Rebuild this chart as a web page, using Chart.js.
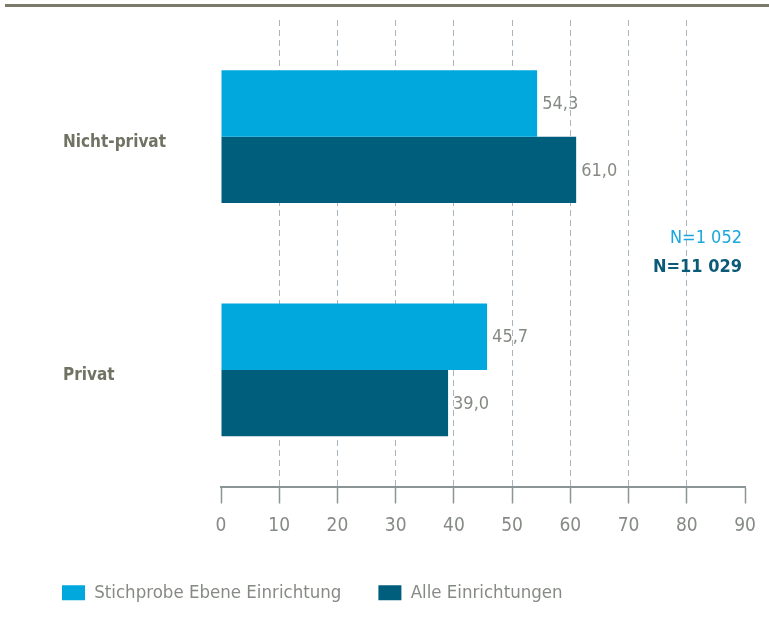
<!DOCTYPE html>
<html>
<head>
<meta charset="utf-8">
<script src="https://cdn.jsdelivr.net/npm/chart.js@4.4.1/dist/chart.umd.min.js"></script>
<style>
  body { margin: 0; background: #ffffff; }
  #wrap { position: relative; width: 769px; height: 621px; }
  #topline { position: absolute; left: 5px; top: 4px; width: 764px; height: 3px; background: #7b7a6b; }
</style>
</head>
<body>
<div id="wrap">
  <div id="topline"></div>
  <canvas id="chart"></canvas>
</div>
<script>
// chart data
const categories = ['Nicht-privat', 'Privat']
const sampleValues = [54.3, 45.7]   // Stichprobe Ebene Einrichtung
const allValues = [61.0, 39.0]      // Alle Einrichtungen
const seriesNames = ['Stichprobe Ebene Einrichtung', 'Alle Einrichtungen']
const xTicks = [0, 10, 20, 30, 40, 50, 60, 70, 80, 90]
const nLabels = ['N=1 052', 'N=11 029']

const lightBlue = '#00a8dd'
const darkBlue = '#005e7d'
const fontFamily = "'Liberation Sans Narrow', 'DejaVu Sans Condensed', 'Liberation Sans', sans-serif"

Chart.defaults.font.family = fontFamily

// writes the value next to the end of each bar, with a german decimal comma
const valueLabels = {
    id: 'valueLabels',
    afterDatasetsDraw(chart) {
        const ctx = chart.ctx
        ctx.save()
        ctx.font = '18px ' + fontFamily
        ctx.fillStyle = '#868a84'
        ctx.textBaseline = 'middle'
        chart.data.datasets.forEach((ds, i) => {
            chart.getDatasetMeta(i).data.forEach((bar, j) => {
                ctx.fillText(ds.data[j].toFixed(1).replace('.', ','), bar.x + 5, bar.y + 1)
            })
        })
        ctx.restore()
    }
}

// the two sample sizes on the right side
const sampleSizes = {
    id: 'sampleSizes',
    afterDraw(chart) {
        const ctx = chart.ctx
        const y = chart.scales.y
        const mid = (y.getPixelForValue(0) + y.getPixelForValue(1)) / 2
        ctx.save()
        ctx.textAlign = 'right'
        ctx.textBaseline = 'middle'
        ctx.font = '18px ' + fontFamily
        ctx.fillStyle = '#1aa7dd'
        ctx.fillText(nLabels[0], chart.chartArea.right - 3, mid - 15)
        ctx.font = 'bold 18px ' + fontFamily
        ctx.fillStyle = '#0b5a78'
        ctx.fillText(nLabels[1], chart.chartArea.right - 3, mid + 14)
        ctx.restore()
    }
}

const chart = document.getElementById('chart')
new Chart(chart, {
    type: 'bar',
    data: {
        labels: categories,
        datasets: [
            { label: seriesNames[0], data: sampleValues, backgroundColor: lightBlue },
            { label: seriesNames[1], data: allValues, backgroundColor: darkBlue }
        ]
    },
    options: {
        indexAxis: 'y',
        responsive: true,
        maintainAspectRatio: false,
        animation: false,
        layout: { padding: { left: 25, right: 24, top: 20, bottom: 9 } },
        scales: {
            x: {
                min: 0,
                max: 90,
                afterBuildTicks: (scale) => { scale.ticks = xTicks.map(v => ({ value: v })) },
                afterFit: (scale) => { scale.height = 60 },
                ticks: { color: '#868b86', font: { size: 19 }, padding: 11 },
                grid: {
                    color: (c) => (c.tick && (c.tick.value === 0 || c.tick.value === 90)) ? 'rgba(0,0,0,0)' : '#a9b5bd',
                    lineWidth: 1,
                    tickLength: 17,
                    tickColor: '#8c9595',
                    tickWidth: 1.5,
                    tickBorderDash: []
                },
                border: { display: true, color: '#8c9595', width: 2, dash: [6, 4] }
            },
            y: {
                afterFit: (scale) => { scale.width = 196 },
                grid: { display: false, drawTicks: false },
                border: { display: false },
                ticks: {
                    mirror: true,
                    padding: -158,
                    crossAlign: 'near',
                    labelOffset: 6,
                    color: '#707263',
                    font: { size: 17, weight: 'bold' }
                }
            }
        },
        datasets: {
            bar: { barPercentage: 1, categoryPercentage: 0.57 }
        },
        plugins: {
            legend: {
                position: 'bottom',
                align: 'start',
                labels: {
                    boxWidth: 23,
                    boxHeight: 15,
                    padding: 37,
                    color: '#868a84',
                    font: { size: 18.5 }
                }
            },
            tooltip: { enabled: false }
        }
    },
    plugins: [valueLabels, sampleSizes]
})
</script>
</body>
</html>
